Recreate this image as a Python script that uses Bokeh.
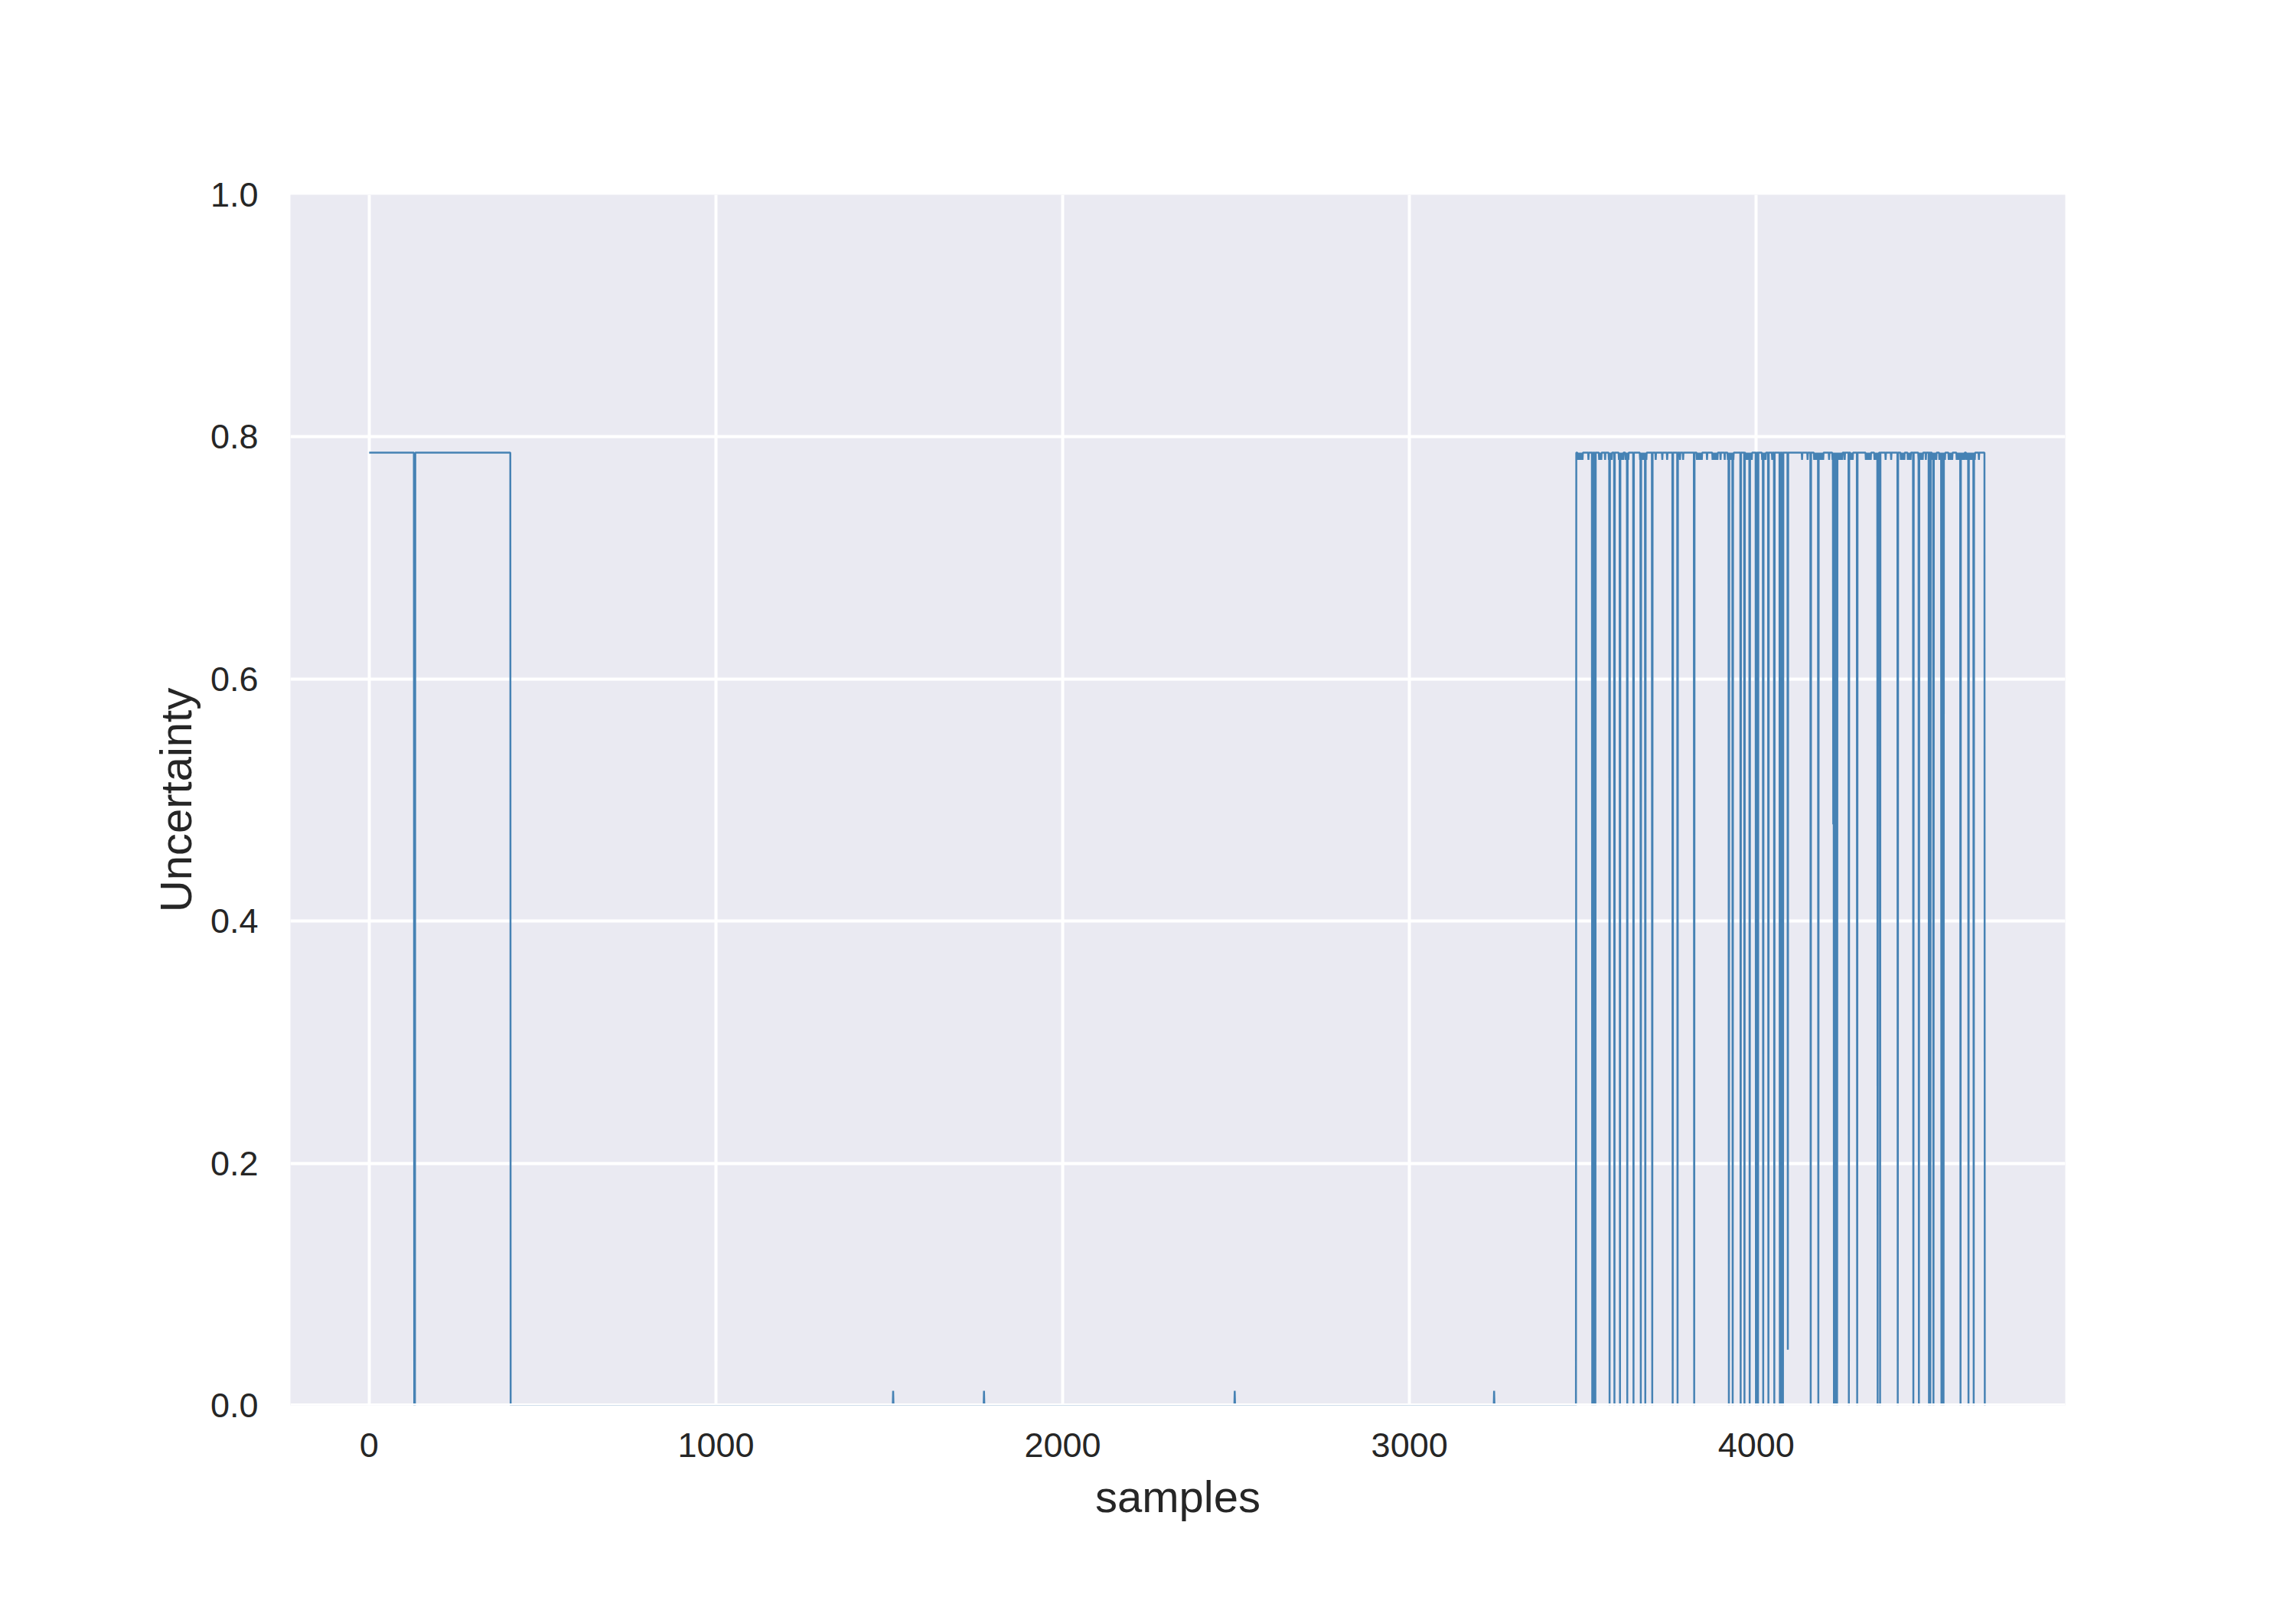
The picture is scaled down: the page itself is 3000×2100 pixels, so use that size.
import numpy as np
from bokeh.plotting import figure
from bokeh.models import Span, FixedTicker, Range1d, PrintfTickFormatter
from bokeh.embed import file_html
from bokeh.resources import INLINE

# ---------------- data ----------------
N_SAMPLES = 4662
HIGH_LEVEL = 0.787
DIP_LEVEL = 0.781
BLIP_LEVEL = 0.012

# sample ranges (inclusive) where the signal sits at the high level
high_runs = [(0, 407), (3481, 4658)]

# ranges that drop all the way back to zero inside the high runs
zero_runs = [(130, 132)]
zero_drop_samples = [3527, 3530, 3533, 3536, 3577, 3591, 3607, 3628, 3646,
                     3667, 3680, 3700, 3759, 3773, 3821, 3921, 3932, 3955,
                     3966, 3981, 3999, 4002, 4005, 4020, 4035, 4052, 4068,
                     4071, 4074, 4077, 4157, 4179, 4224, 4227, 4230, 4233,
                     4267, 4291, 4350, 4357, 4408, 4453, 4469, 4498, 4502,
                     4511, 4534, 4537, 4540, 4589, 4612, 4627]

# single samples that only fall part of the way down
partial_drop_samples = [4091, 4222]
partial_drop_values = [0.046, 0.48]

# clusters of small flickers between the high level and the dip level
shallow_dip_runs = [(3485, 3500), (3516, 3516), (3547, 3554), (3564, 3564),
                    (3575, 3584), (3604, 3616), (3623, 3632), (3665, 3683),
                    (3710, 3710), (3729, 3729), (3743, 3743), (3780, 3780),
                    (3789, 3789), (3829, 3844), (3858, 3858), (3874, 3888),
                    (3897, 3897), (3909, 3909), (3918, 3935), (3969, 3988),
                    (4017, 4027), (4046, 4046), (4132, 4132), (4148, 4148),
                    (4167, 4194), (4210, 4210), (4220, 4249), (4255, 4255),
                    (4272, 4279), (4316, 4331), (4341, 4354), (4373, 4373),
                    (4389, 4389), (4417, 4428), (4437, 4446), (4468, 4481),
                    (4489, 4489), (4507, 4520), (4528, 4545), (4555, 4565),
                    (4578, 4584), (4586, 4600), (4606, 4606), (4608, 4630),
                    (4642, 4642)]

# isolated tiny blips in the quiet middle section
blip_samples = [1511, 1773, 2496, 3244]

x_ticks = [0, 1000, 2000, 3000, 4000]
y_ticks = [0.0, 0.2, 0.4, 0.6, 0.8, 1.0]
x_label = "samples"
y_label = "Uncertainty"

# ---------------- build the series ----------------
samples = np.arange(N_SAMPLES)
uncertainty = np.zeros(N_SAMPLES)
for s, e in high_runs:
    uncertainty[s:e + 1] = HIGH_LEVEL
for s, e in shallow_dip_runs:
    uncertainty[s:e + 1:2] = DIP_LEVEL
for s, e in zero_runs:
    uncertainty[s:e + 1] = 0.0
for k in zero_drop_samples:
    uncertainty[k] = 0.0
for k, v in zip(partial_drop_samples, partial_drop_values):
    uncertainty[k] = v
for k in blip_samples:
    uncertainty[k] = BLIP_LEVEL

# ---------------- figure ----------------
FONT = "Liberation Sans"
TEXT = "#262626"

p = figure(width=2984, height=2084, output_backend="svg", toolbar_location=None,
           x_range=Range1d(-227, 4891), y_range=Range1d(0, 1),
           min_border_left=379, min_border_right=286,
           min_border_top=254, min_border_bottom=248)

p.background_fill_color = "#EAEAF2"
p.border_fill_color = "white"
p.outline_line_color = None

for g in (p.xgrid, p.ygrid):
    g.grid_line_color = "white"
    g.grid_line_width = 4

p.xaxis.ticker = FixedTicker(ticks=x_ticks)
p.yaxis.ticker = FixedTicker(ticks=y_ticks)
p.yaxis.formatter = PrintfTickFormatter(format="%.1f")

for ax in (p.xaxis, p.yaxis):
    ax.axis_line_color = None
    ax.major_tick_line_color = None
    ax.minor_tick_line_color = None
    ax.major_tick_out = 0
    ax.major_tick_in = 0
    ax.major_label_text_font = FONT
    ax.major_label_text_font_size = "45px"
    ax.major_label_text_color = TEXT
    ax.axis_label_text_font = FONT
    ax.axis_label_text_font_size = "58px"
    ax.axis_label_text_color = TEXT
    ax.axis_label_text_font_style = "normal"

p.xaxis.major_label_standoff = 36
p.yaxis.major_label_standoff = 42
p.xaxis.axis_label = x_label
p.yaxis.axis_label = y_label
p.xaxis.axis_label_standoff = 16
p.yaxis.axis_label_standoff = 10

p.line(samples, uncertainty, line_color="#4682b4", line_width=2.5)

# white bottom spine drawn over the line, as in the reference
p.add_layout(Span(location=0, dimension="width", line_color="white",
                  line_width=5, level="overlay"))

open("out.html", "w").write(file_html(p, INLINE))
